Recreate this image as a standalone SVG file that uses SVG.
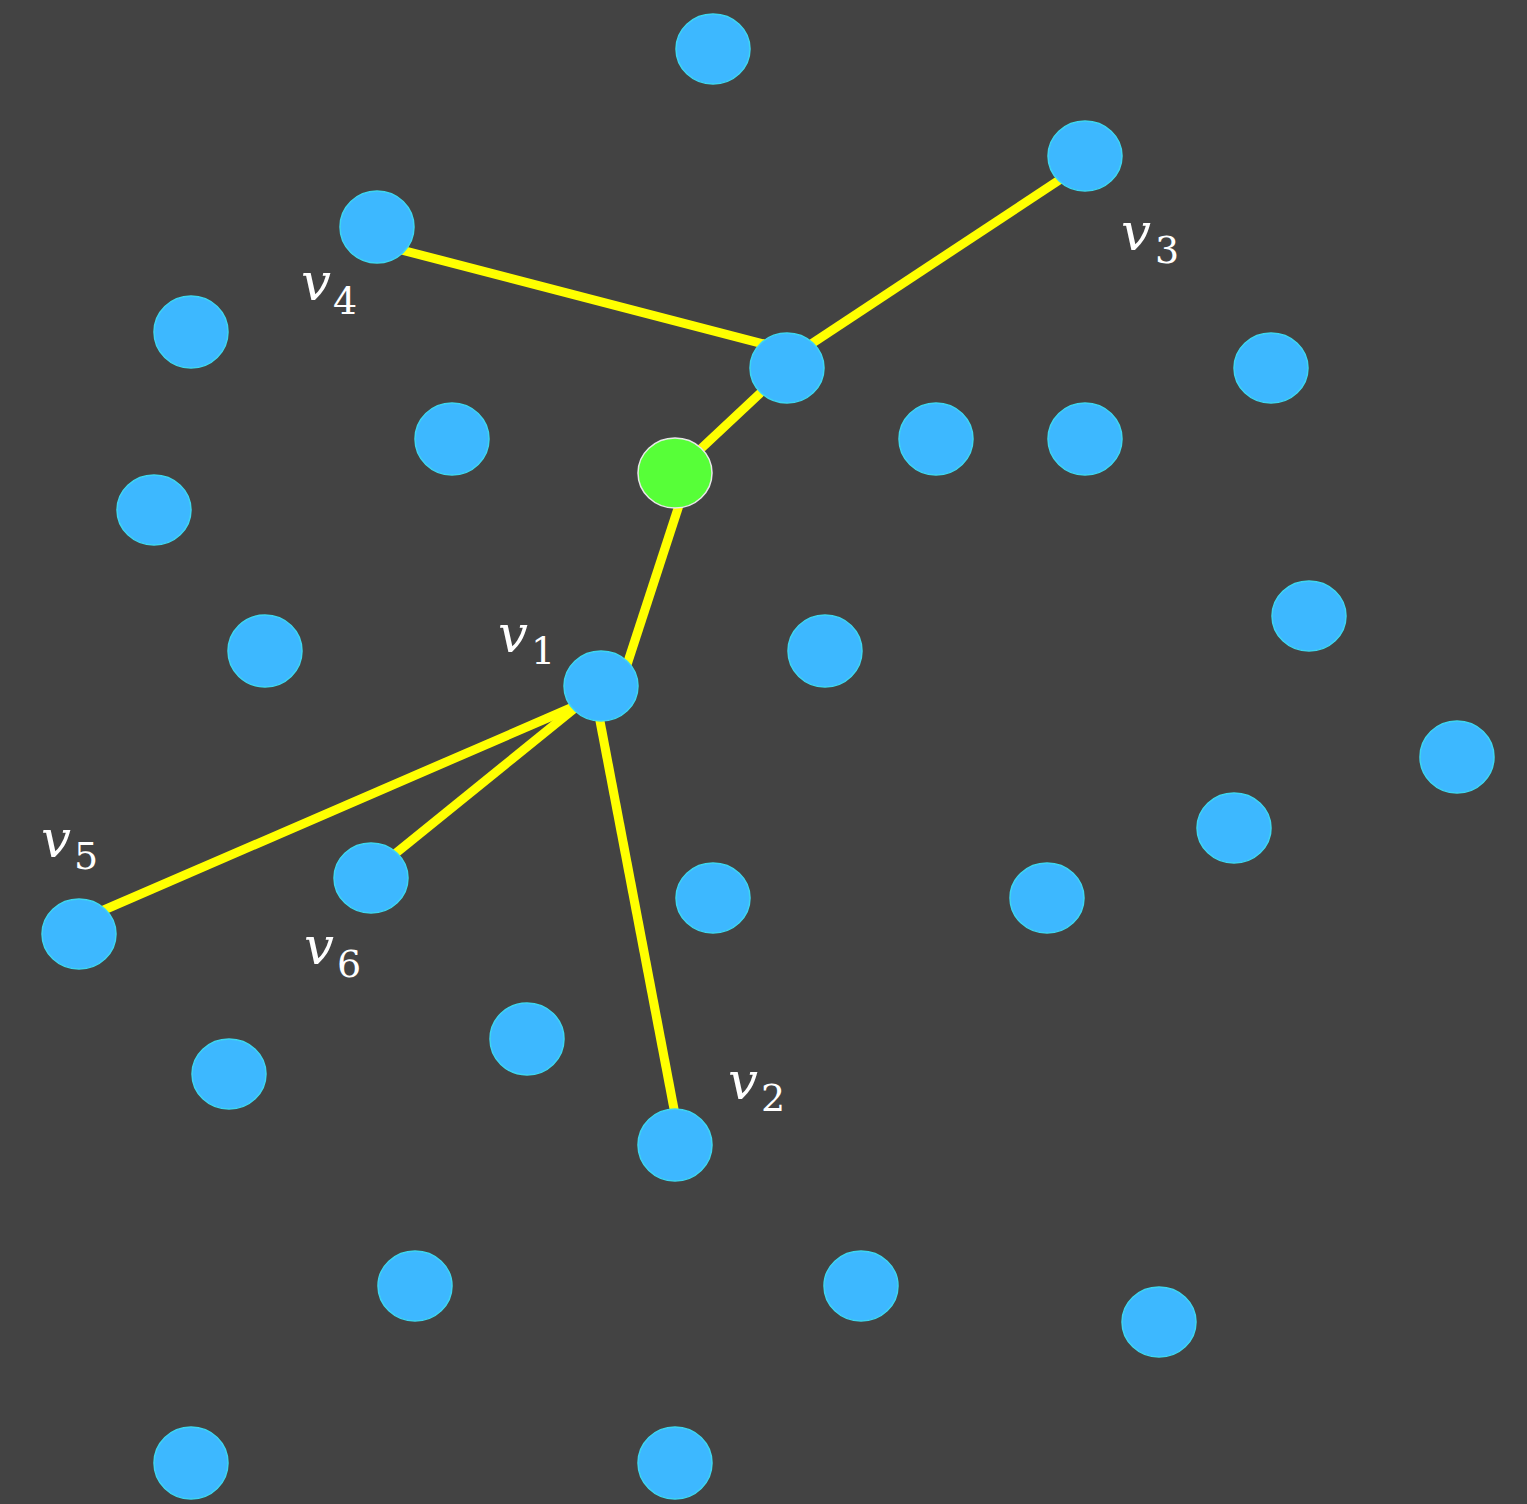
<svg xmlns="http://www.w3.org/2000/svg" width="1527" height="1504" viewBox="0 0 1527 1504">
<style>
.n{fill:#3DB8FF;stroke:#3DD6F0;stroke-width:1.5}
.g{fill:#57FF38;stroke:#E8E8E8;stroke-width:1.5}
.e{stroke:#FFFF00;stroke-width:9;fill:none}
.v{font-family:"DejaVu Serif","Liberation Serif",serif;font-style:italic;font-size:53px;fill:#FFFFFF}
.s{font-family:"DejaVu Serif","Liberation Serif",serif;font-size:38px;fill:#FFFFFF}
</style>
<rect width="1527" height="1504" fill="#434343"/>
<g id="connectors">
<line class="e" x1="390" y1="247" x2="787" y2="350"/>
<line class="e" x1="1085" y1="163" x2="787" y2="360"/>
<line class="e" x1="787" y1="368" x2="675" y2="473"/>
<line class="e" x1="684" y1="490" x2="622" y2="680"/>
<line class="e" x1="580" y1="704" x2="90" y2="916"/>
<line class="e" x1="580" y1="704" x2="380" y2="866"/>
<line class="e" x1="596" y1="700" x2="678" y2="1130"/>
</g>
<g id="nodes">
<g id="n1"><ellipse class="n" cx="713" cy="49" rx="37" ry="35"/></g>
<g id="v3"><ellipse class="n" cx="1085" cy="156" rx="37" ry="35"/></g>
<g id="v4"><ellipse class="n" cx="377" cy="227" rx="37" ry="36"/></g>
<g id="n4"><ellipse class="n" cx="191" cy="332" rx="37" ry="36"/></g>
<g id="hub"><ellipse class="n" cx="787" cy="368" rx="37" ry="35"/></g>
<g id="n6"><ellipse class="n" cx="1271" cy="368" rx="37" ry="35"/></g>
<g id="n7"><ellipse class="n" cx="452" cy="439" rx="37" ry="36"/></g>
<g id="n8"><ellipse class="n" cx="936" cy="439" rx="37" ry="36"/></g>
<g id="n9"><ellipse class="n" cx="1085" cy="439" rx="37" ry="36"/></g>
<g id="green"><ellipse class="g" cx="675" cy="473" rx="37" ry="35"/></g>
<g id="n11"><ellipse class="n" cx="154" cy="510" rx="37" ry="35"/></g>
<g id="n12"><ellipse class="n" cx="265" cy="651" rx="37" ry="36"/></g>
<g id="n13"><ellipse class="n" cx="825" cy="651" rx="37" ry="36"/></g>
<g id="n14"><ellipse class="n" cx="1309" cy="616" rx="37" ry="35"/></g>
<g id="v1"><ellipse class="n" cx="601" cy="686" rx="37" ry="35"/></g>
<g id="n16"><ellipse class="n" cx="1457" cy="757" rx="37" ry="36"/></g>
<g id="n17"><ellipse class="n" cx="1234" cy="828" rx="37" ry="35"/></g>
<g id="v6"><ellipse class="n" cx="371" cy="878" rx="37" ry="35"/></g>
<g id="v5"><ellipse class="n" cx="79" cy="934" rx="37" ry="35"/></g>
<g id="n20"><ellipse class="n" cx="713" cy="898" rx="37" ry="35"/></g>
<g id="n21"><ellipse class="n" cx="1047" cy="898" rx="37" ry="35"/></g>
<g id="n22"><ellipse class="n" cx="527" cy="1039" rx="37" ry="36"/></g>
<g id="n23"><ellipse class="n" cx="229" cy="1074" rx="37" ry="35"/></g>
<g id="v2"><ellipse class="n" cx="675" cy="1145" rx="37" ry="36"/></g>
<g id="n25"><ellipse class="n" cx="415" cy="1286" rx="37" ry="35"/></g>
<g id="n26"><ellipse class="n" cx="861" cy="1286" rx="37" ry="35"/></g>
<g id="n27"><ellipse class="n" cx="1159" cy="1322" rx="37" ry="35"/></g>
<g id="n28"><ellipse class="n" cx="191" cy="1463" rx="37" ry="36"/></g>
<g id="n29"><ellipse class="n" cx="675" cy="1463" rx="37" ry="36"/></g>
</g>
<g id="labels">
<text class="v" x="1121" y="250">v</text><text class="s" x="1155" y="263">3</text>
<text class="v" x="301" y="300">v</text><text class="s" x="333" y="314">4</text>
<text class="v" x="498" y="652">v</text><text class="s" x="531" y="664">1</text>
<text class="v" x="41" y="857">v</text><text class="s" x="74" y="869">5</text>
<text class="v" x="304" y="964">v</text><text class="s" x="337" y="977">6</text>
<text class="v" x="728" y="1099">v</text><text class="s" x="761" y="1111">2</text>
</g>
</svg>
